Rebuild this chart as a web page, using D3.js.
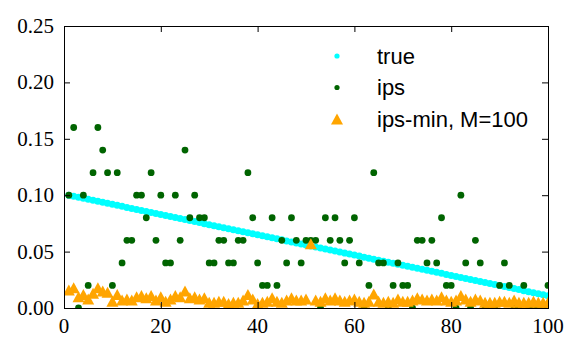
<!DOCTYPE html>
<html>
<head>
<meta charset="utf-8">
<script src="https://d3js.org/d3.v7.min.js"></script>
<style>
  body { margin: 0; background: #fff; }
  .legendText { font-family: "Liberation Sans", Arial, sans-serif; font-size: 22px; fill: #000; }
  text.tickLabel { font-family: "Liberation Serif", "DejaVu Serif", serif; font-size: 21px; fill: #000; }
</style>
</head>
<body>
<div id="chart"></div>
<script>
var svgWidth = 582;
var svgHeight = 354;

var margin = { top: 26, right: 34, bottom: 46, left: 64 };
var width = svgWidth - margin.left - margin.right;
var height = svgHeight - margin.top - margin.bottom;

// arms 1..100
var arms = d3.range(1, 101);

// true value per arm
var trueValues = [
  0.1000, 0.0991, 0.0982, 0.0973, 0.0964, 0.0955, 0.0946, 0.0937, 0.0928, 0.0919,
  0.0910, 0.0901, 0.0892, 0.0883, 0.0874, 0.0865, 0.0856, 0.0847, 0.0838, 0.0829,
  0.0820, 0.0811, 0.0802, 0.0793, 0.0784, 0.0775, 0.0766, 0.0757, 0.0748, 0.0739,
  0.0730, 0.0721, 0.0712, 0.0703, 0.0694, 0.0685, 0.0676, 0.0667, 0.0658, 0.0649,
  0.0640, 0.0631, 0.0622, 0.0613, 0.0604, 0.0595, 0.0586, 0.0577, 0.0568, 0.0559,
  0.0550, 0.0541, 0.0532, 0.0523, 0.0514, 0.0505, 0.0496, 0.0487, 0.0478, 0.0469,
  0.0460, 0.0451, 0.0442, 0.0433, 0.0424, 0.0415, 0.0406, 0.0397, 0.0388, 0.0379,
  0.0370, 0.0361, 0.0352, 0.0343, 0.0334, 0.0325, 0.0316, 0.0307, 0.0298, 0.0289,
  0.0280, 0.0271, 0.0262, 0.0253, 0.0244, 0.0235, 0.0226, 0.0217, 0.0208, 0.0199,
  0.0190, 0.0181, 0.0172, 0.0163, 0.0154, 0.0145, 0.0136, 0.0127, 0.0118, 0.0109
];

// ips estimate per arm
var ipsValues = [
  0.10, 0.16, 0.00, 0.10, 0.02, 0.12, 0.16, 0.14, 0.12, 0.02,
  0.12, 0.04, 0.06, 0.06, 0.10, 0.10, 0.08, 0.12, 0.06, 0.10,
  0.04, 0.04, 0.10, 0.06, 0.14, 0.08, 0.10, 0.08, 0.08, 0.04,
  0.04, 0.06, 0.06, 0.04, 0.04, 0.06, 0.06, 0.12, 0.08, 0.04,
  0.02, 0.02, 0.08, 0.02, 0.06, 0.04, 0.08, 0.06, 0.04, 0.06,
  0.06, 0.06, 0.00, 0.08, 0.06, 0.08, 0.06, 0.04, 0.06, 0.08,
  0.04, 0.00, 0.02, 0.12, 0.04, 0.04, 0.00, 0.02, 0.04, 0.02,
  0.02, 0.00, 0.06, 0.06, 0.04, 0.06, 0.04, 0.08, 0.02, 0.02,
  0.00, 0.10, 0.04, 0.00, 0.06, 0.04, 0.00, 0.00, 0.00, 0.02,
  0.04, 0.02, 0.00, 0.00, 0.02, 0.00, 0.00, 0.00, 0.00, 0.02
];

// ips-min estimate per arm (M=100)
var ipsMinValues = [
  0.016, 0.018, 0.010, 0.012, 0.008, 0.013, 0.018, 0.015, 0.014, 0.006,
  0.012, 0.007, 0.008, 0.007, 0.010, 0.011, 0.009, 0.011, 0.007, 0.010,
  0.006, 0.008, 0.011, 0.010, 0.015, 0.009, 0.010, 0.008, 0.009, 0.005,
  0.005, 0.006, 0.006, 0.004, 0.005, 0.005, 0.007, 0.012, 0.008, 0.004,
  0.005, 0.006, 0.009, 0.006, 0.005, 0.007, 0.009, 0.007, 0.007, 0.008,
  0.057, 0.007, 0.006, 0.009, 0.007, 0.009, 0.007, 0.006, 0.007, 0.008,
  0.006, 0.005, 0.006, 0.0125, 0.006, 0.005, 0.006, 0.005, 0.008, 0.006,
  0.006, 0.007, 0.009, 0.008, 0.007, 0.008, 0.007, 0.010, 0.007, 0.006,
  0.007, 0.011, 0.008, 0.006, 0.008, 0.007, 0.005, 0.005, 0.005, 0.006,
  0.006, 0.005, 0.007, 0.005, 0.005, 0.005, 0.006, 0.005, 0.005, 0.005
];

var xTicks = [0, 20, 40, 60, 80, 100];
var yTicks = [0, 0.05, 0.10, 0.15, 0.20, 0.25];
var xTickLabels = ["0", "20", "40", "60", "80", "100"];
var yTickLabels = ["0.00", "0.05", "0.10", "0.15", "0.20", "0.25"];

var legendLabels = ["true", "ips", "ips-min, M=100"];
var colors = { "true": "#00ffff", "ips": "#006400", "ips-min, M=100": "#ffa500" };

var svg = d3.select("#chart")
  .append("svg")
  .attr("width", svgWidth)
  .attr("height", svgHeight)
  .style("background", "#fff");

var chartGroup = svg.append("g")
  .attr("transform", `translate(${margin.left}, ${margin.top})`);

var xScale = d3.scaleLinear().domain([0, 100]).range([0, width]);
var yScale = d3.scaleLinear().domain([0, 0.25]).range([height, 0]);

chartGroup.append("clipPath")
  .attr("id", "plotClip")
  .append("rect")
  .attr("width", width)
  .attr("height", height);

var plot = chartGroup.append("g").attr("clip-path", "url(#plotClip)");

// triangle pointing up, centred on its bounding box
function triangle(w, h) {
  return `M0,${-h / 2}L${w / 2},${h / 2}L${-w / 2},${h / 2}Z`;
}

// true values
plot.selectAll("circle.true")
  .data(arms)
  .enter()
  .append("circle")
  .attr("class", "true")
  .attr("cx", d => xScale(d))
  .attr("cy", (d, i) => yScale(trueValues[i]))
  .attr("r", 3.5)
  .attr("fill", colors["true"]);

// ips
plot.selectAll("circle.ips")
  .data(arms)
  .enter()
  .append("circle")
  .attr("class", "ips")
  .attr("cx", d => xScale(d))
  .attr("cy", (d, i) => yScale(ipsValues[i]))
  .attr("r", 3.4)
  .attr("fill", colors["ips"]);

// ips-min
plot.selectAll("path.ipsmin")
  .data(arms)
  .enter()
  .append("path")
  .attr("class", "ipsmin")
  .attr("transform", (d, i) => `translate(${xScale(d)}, ${yScale(ipsMinValues[i])})`)
  .attr("d", triangle(12, 11))
  .attr("fill", colors["ips-min, M=100"]);

// axes, ticks pointing inward on all sides, labels added as plain text
var tick = 6;
chartGroup.append("g")
  .attr("transform", `translate(0, ${height})`)
  .call(d3.axisBottom(xScale).tickValues(xTicks).tickSize(-tick).tickSizeOuter(0).tickFormat(""));

chartGroup.append("g")
  .call(d3.axisLeft(yScale).tickValues(yTicks).tickSize(-tick).tickSizeOuter(0).tickFormat(""));

chartGroup.append("g")
  .call(d3.axisTop(xScale).tickValues(xTicks).tickSize(-tick).tickSizeOuter(0).tickFormat(""));

chartGroup.append("g")
  .attr("transform", `translate(${width}, 0)`)
  .call(d3.axisRight(yScale).tickValues(yTicks).tickSize(-tick).tickSizeOuter(0).tickFormat(""));

chartGroup.selectAll(".domain").remove();
chartGroup.selectAll(".tick line").attr("stroke", "#000");

chartGroup.selectAll("text.xLabel")
  .data(xTicks)
  .enter()
  .append("text")
  .attr("class", "tickLabel")
  .attr("x", d => xScale(d))
  .attr("y", height + 25)
  .attr("text-anchor", "middle")
  .text((d, i) => xTickLabels[i]);

chartGroup.selectAll("text.yLabel")
  .data(yTicks)
  .enter()
  .append("text")
  .attr("class", "tickLabel")
  .attr("x", -10)
  .attr("y", d => yScale(d) + 7)
  .attr("text-anchor", "end")
  .text((d, i) => yTickLabels[i]);

chartGroup.append("rect")
  .attr("x", 0.5)
  .attr("y", 0.5)
  .attr("width", width)
  .attr("height", height)
  .attr("fill", "none")
  .attr("stroke", "#000")
  .attr("stroke-width", 1);

// legend
var legend = svg.append("g").attr("transform", "translate(337, 56)");

legendLabels.forEach(function(label, i) {
  var row = legend.append("g").attr("transform", `translate(0, ${i * 31.5})`);
  if (i == 2) {
    row.append("path").attr("d", triangle(12, 11)).attr("fill", colors[label]);
  } else {
    row.append("circle").attr("r", 2.6).attr("fill", colors[label]);
  }
  row.append("text")
    .attr("class", "legendText")
    .attr("x", 40)
    .attr("y", 7.5)
    .text(label);
});
</script>
</body>
</html>
